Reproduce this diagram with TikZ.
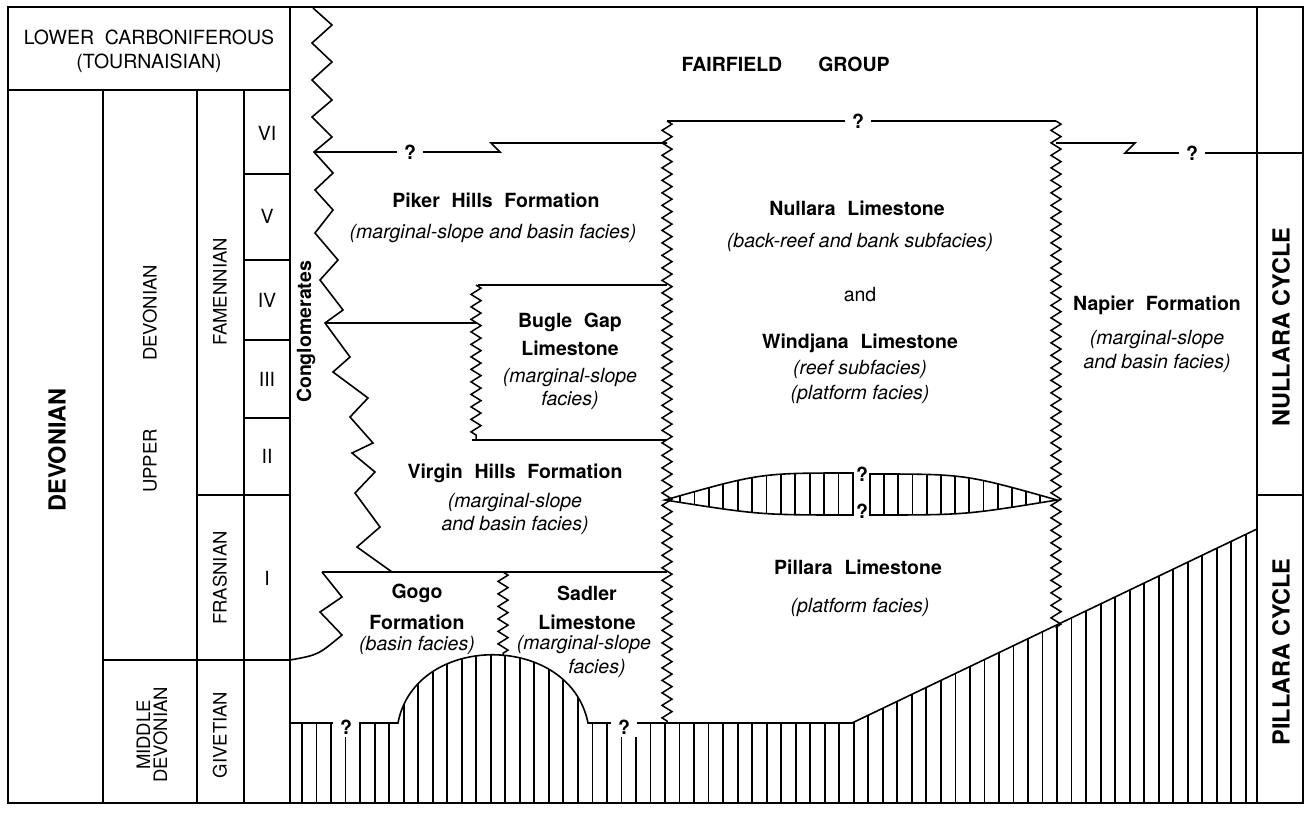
\documentclass[tikz,border=0pt]{standalone}
\usepackage{fontspec}
\setmainfont{TeX Gyre Heros}
\usepackage{tikz}
\usetikzlibrary{decorations.pathmorphing}

\begin{document}
\begin{tikzpicture}[x=1pt, y=-1pt,
    frame/.style={line width=2.6pt},
    colline/.style={line width=2.3pt},
    bound/.style={line width=1.6pt},
    contact/.style={line width=1.5pt, decorate,
      decoration={zigzag, segment length=12.5pt, amplitude=5pt}},
    hatch/.style={line width=1.8pt},
    unit/.style={font={\fontsize{19.5}{23}\selectfont\bfseries\spaceskip=0.6em\relax}},
    facies/.style={font={\fontsize{19.5}{23}\selectfont\itshape}},
    plain/.style={font={\fontsize{19.5}{22}\selectfont}},
    stage/.style={rotate=90, font={\fontsize{18.5}{20}\selectfont}},
    cycle/.style={rotate=90, font={\fontsize{23.5}{27}\selectfont\bfseries}},
    qm/.style={font={\fontsize{19.5}{23}\selectfont\bfseries}, fill=white, inner xsep=7pt, inner ysep=3pt}]

  \useasboundingbox (0,0) rectangle (1308,813);

  % basement
  \begin{scope}
    \clip (290,723) -- (398,723) .. controls (415,632) and (570,632) .. (588,723)
      -- (852,723) -- (1257,529) -- (1257,803) -- (290,803) -- cycle;
    \foreach \i in {0,...,65}
      \draw[hatch] ({302+14.52*\i},500) -- ++(0,310);
  \end{scope}
  \draw[bound] (290,723) -- (398,723) .. controls (415,632) and (570,632) .. (588,723)
    -- (852,723) -- (1257,529);

  % lens between Pillara and Nullara
  \begin{scope}
    \clip (665,500) .. controls (760,473) .. (853,473) -- (853,515) .. controls (760,515) .. (665,500) -- cycle;
    \foreach \i in {0,...,11}
      \draw[hatch] ({680+14.4*\i},460) -- ++(0,70);
  \end{scope}
  \begin{scope}
    \clip (870,474) .. controls (965,474) .. (1057,500) .. controls (965,515) .. (870,515) -- cycle;
    \foreach \i in {0,...,11}
      \draw[hatch] ({884+14.2*\i},460) -- ++(0,70);
  \end{scope}
  \draw[bound] (665,500) .. controls (760,473) .. (853,473) -- (853,515) .. controls (760,515) .. (665,500) -- cycle;
  \draw[bound] (870,474) .. controls (965,474) .. (1057,500) .. controls (965,515) .. (870,515) -- cycle;

  % facies contacts
  \draw[contact] (667,121) -- (667,723);
  \draw[contact] (1056,121) -- (1056,628);
  \draw[contact] (476,285) -- (476,440);
  \draw[contact] (503,572) -- (503,656);

  % conglomerates
  \draw[bound] (313,8) -- (332,25) -- (312,43) -- (332,62) -- (312,80) -- (332,100)
    -- (312,117) -- (332,137) -- (314,152) -- (333,173) -- (315,190) -- (333,210)
    -- (315,233) -- (338,260) -- (320,280) -- (343,310) -- (325,323)
    -- (350,357) -- (333,372) -- (368,398) -- (350,417) -- (373,443) -- (352,453)
    -- (375,472) -- (355,493) -- (380,527) -- (357,547) -- (392,572);

  % boundaries
  \draw[bound] (667,121) -- (1056,121);
  \draw[bound] (314,152) -- (500,152) -- (491,143) -- (667,143);
  \draw[bound] (1056,143) -- (1135,143) -- (1125,153) -- (1303,153);
  \draw[bound] (325,323) -- (476,323);
  \draw[bound] (478,285) -- (667,285);
  \draw[bound] (472,440) -- (667,440);
  \draw[bound] (322,572) -- (667,572);
  \draw[bound] (322,572) -- (342,597) -- (320,612) -- (342,635) .. controls (318,655) .. (290,660);

  % time columns
  \draw[frame] (8,7) rectangle (1303,803);
  \draw[colline] (8,90) -- (290,90);
  \foreach \x in {103,197,244}
    \draw[colline] (\x,90) -- (\x,803);
  \draw[colline] (290,7) -- (290,803);
  \draw[colline] (1257,7) -- (1257,803);
  \draw[colline] (103,660) -- (290,660);
  \draw[colline] (197,495) -- (290,495);
  \foreach \y in {174,260,340,418}
    \draw[colline] (244,\y) -- (290,\y);
  \draw[colline] (1257,495) -- (1303,495);

  \node[plain] (lower) at (149,37) {LOWER\ \ CARBONIFEROUS};
  \node[plain] (tourn) at (149,63) {(TOURNAISIAN)};
  \node[cycle] (devonian) at (57,450) {DEVONIAN};
  \node[stage] (upper) at (150,461) {UPPER};
  \node[stage] (updev) at (150,313) {DEVONIAN};
  \node[stage, align=center] (middev) at (152,735) {MIDDLE\\[-3pt]DEVONIAN};
  \node[stage] (famen) at (220,292) {FAMENNIAN};
  \node[stage] (frasn) at (220,578) {FRASNIAN};
  \node[stage] (givet) at (220,735) {GIVETIAN};
  \foreach [count=\i] \r/\y in {VI/133, V/216, IV/300, III/379, II/456, I/578}
    \node[plain] (zone\i) at (267,\y) {\r};
  \node[cycle] (nullcyc) at (1281,327) {NULLARA CYCLE};
  \node[cycle] (pillcyc) at (1281,652) {PILLARA CYCLE};

  % rock units
  \node[unit] (fair) at (732,64) {FAIRFIELD};
  \node[unit] (group) at (854,64) {GROUP};
  \node[unit, rotate=90] (congl) at (306,332) {Conglomerates};
  \node[unit] (piker) at (496,200) {Piker Hills Formation};
  \node[facies] (pikerf) at (493,233) {(marginal-slope and basin facies)};
  \node[unit] (bugle) at (570,322) {Bugle Gap};
  \node[unit] (buglel) at (570,348) {Limestone};
  \node[facies] (buglef) at (570,378) {(marginal-slope};
  \node[facies] (buglef2) at (570,400) {facies)};
  \node[unit] (virgin) at (515,473) {Virgin Hills Formation};
  \node[facies] (virginf) at (515,503) {(marginal-slope};
  \node[facies] (virginf2) at (515,525) {and basin facies)};
  \node[unit] (gogo) at (417,593) {Gogo};
  \node[unit] (gogol) at (417,622) {Formation};
  \node[facies] (gogof) at (417,645) {(basin facies)};
  \node[unit] (sadler) at (587,593) {Sadler};
  \node[unit] (sadlerl) at (587,622) {Limestone};
  \node[facies] (sadlerf) at (584,645) {(marginal-slope};
  \node[facies] (sadlerf2) at (597,668) {facies)};
  \node[unit] (nullara) at (857,208) {Nullara Limestone};
  \node[facies] (nullaraf) at (860,242) {(back-reef and bank subfacies)};
  \node[plain] (and) at (860,295) {and};
  \node[unit] (windjana) at (860,343) {Windjana Limestone};
  \node[facies] (windjanaf) at (860,369) {(reef subfacies)};
  \node[facies] (windjanaf2) at (860,394) {(platform facies)};
  \node[unit] (pillara) at (858,567) {Pillara Limestone};
  \node[facies] (pillaraf) at (860,607) {(platform facies)};
  \node[unit] (napier) at (1157,305) {Napier Formation};
  \node[facies] (napierf) at (1157,340) {(marginal-slope};
  \node[facies] (napierf2) at (1157,363) {and basin facies)};

  % uncertain contacts
  \node[qm] (q1) at (410,152) {?};
  \node[qm] (q2) at (858,121) {?};
  \node[qm] (q3) at (1192,153) {?};
  \node[qm] (q4) at (346,727) {?};
  \node[qm] (q5) at (624,727) {?};
  \node[unit] (q6) at (862,474) {?};
  \node[unit] (q7) at (862,511) {?};
\end{tikzpicture}
\end{document}
